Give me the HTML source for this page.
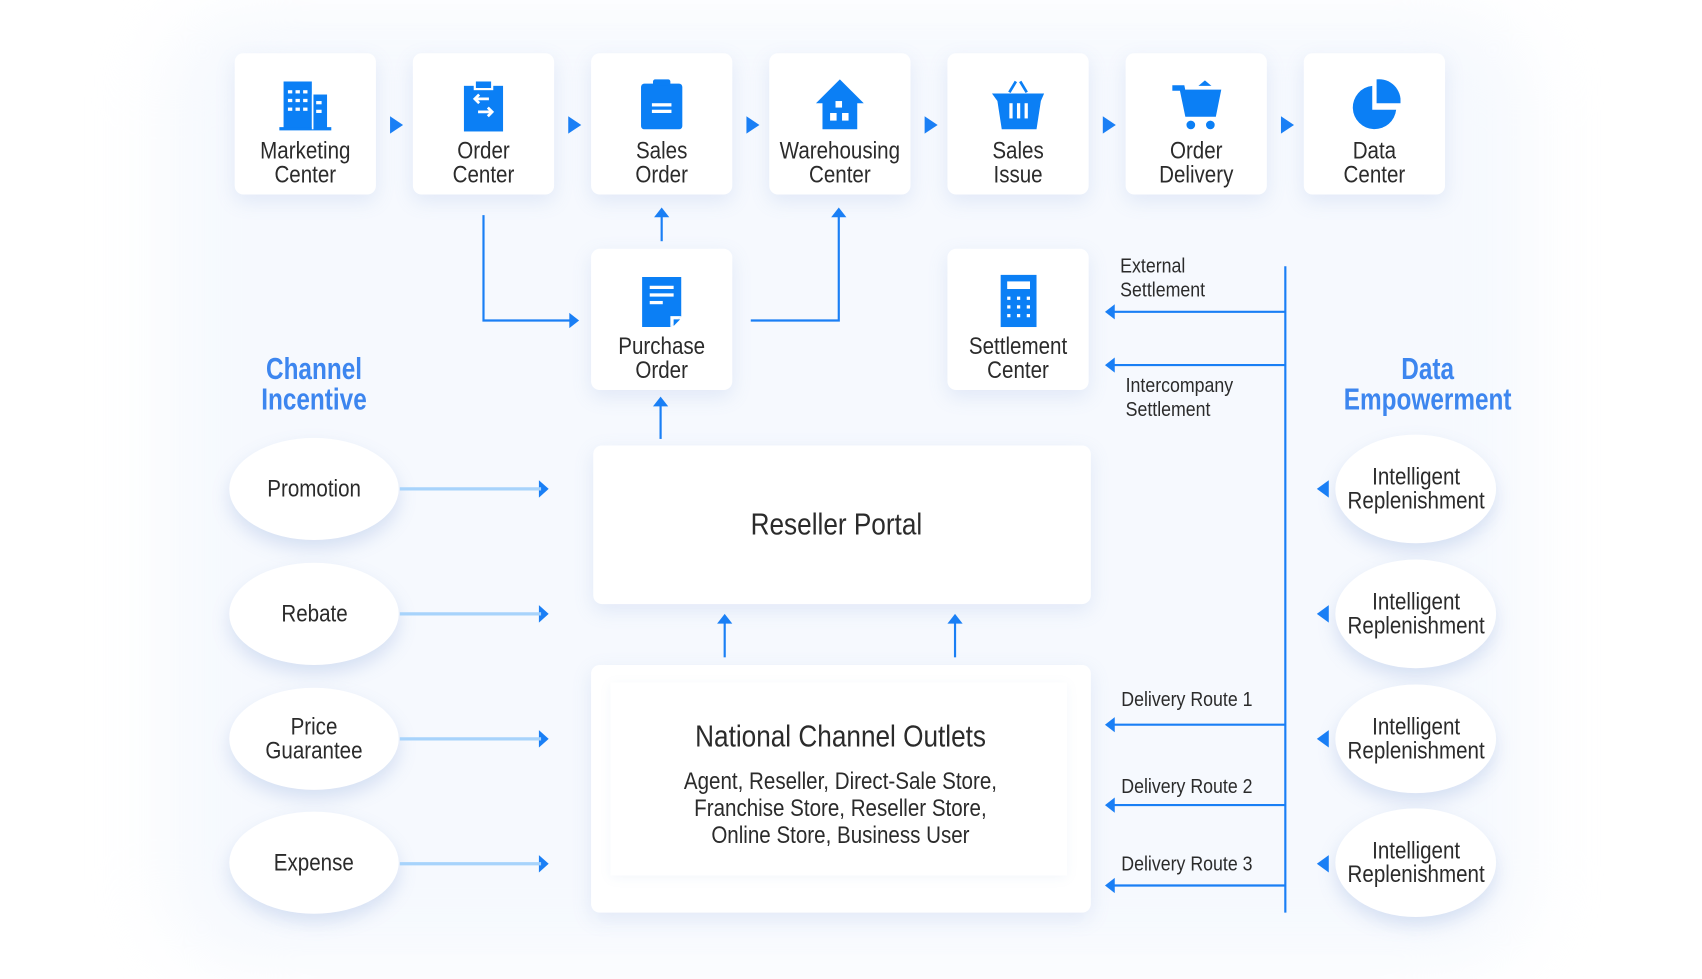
<!DOCTYPE html>
<html><head><meta charset="utf-8"><style>
html,body{margin:0;padding:0;background:#fff;width:1702px;height:979px;overflow:hidden}
#w{position:absolute;left:0;top:0;width:1560px;height:897px;transform:scale(1.0865,1.0865);transform-origin:0 0;font-family:"Liberation Sans Narrow","Liberation Sans",sans-serif;color:#2b2b2b}
.glow{position:absolute;left:150px;top:10px;width:1260px;height:880px;border-radius:80px;background:#f6f9fe;filter:blur(30px)}
.box{position:absolute;background:#fff;border-radius:8px;box-shadow:0 6px 18px rgba(120,150,210,.16);text-align:center}
.t{width:130px;height:130px}
.lab{position:absolute;left:0;right:0;top:79px;font-size:22px;line-height:22px;transform:scaleX(.86)}
.ic{position:absolute;left:41px;top:22px;width:48px;height:52px}
.el{position:absolute;background:#fff;border-radius:50%;box-shadow:0 8px 16px rgba(120,150,210,.25);display:flex;align-items:center;justify-content:center;text-align:center;font-size:22px;line-height:22px}
.el span,.n{display:inline-block;transform:scaleX(.86)}
.h{position:absolute;color:#3d86ef;font-weight:bold;font-size:28px;line-height:28px;text-align:center;transform:scaleX(.8)}
.s{position:absolute;font-size:19px;line-height:22px;transform:scaleX(.86);transform-origin:0 0;white-space:nowrap}
svg{position:absolute;left:0;top:0}
</style></head><body><div id="w">
<div class="glow"></div>

<div class="box t" style="left:216px;top:49px"><svg class="ic" viewBox="0 0 48 52"><rect x="4" y="4" width="26" height="44" fill="#0b7ff5"/><rect x="30" y="16" width="14" height="32" fill="#0b7ff5"/><rect x="0" y="46" width="48" height="3" fill="#0b7ff5"/><g fill="#fff"><rect x="8" y="12" width="4" height="3"/><rect x="15" y="12" width="4" height="3"/><rect x="22" y="12" width="4" height="3"/><rect x="8" y="20" width="4" height="3"/><rect x="15" y="20" width="4" height="3"/><rect x="22" y="20" width="4" height="3"/><rect x="8" y="28" width="4" height="3"/><rect x="15" y="28" width="4" height="3"/><rect x="22" y="28" width="4" height="3"/><rect x="34" y="22" width="5" height="3"/><rect x="34" y="30" width="5" height="3"/><rect x="30" y="16" width="1.5" height="32"/></g></svg><div class="lab">Marketing<br>Center</div></div>
<div class="box t" style="left:380px;top:49px"><svg class="ic" viewBox="0 0 48 52"><rect x="6" y="8" width="36" height="42" fill="#0b7ff5"/><rect x="16" y="3" width="16" height="8" fill="#0b7ff5" stroke="#fff" stroke-width="2"/><path d="M29 20h-12m3-4l-4 4 4 4M19 32h12m-3-4l4 4-4 4" stroke="#fff" stroke-width="2.5" fill="none"/></svg><div class="lab">Order<br>Center</div></div>
<div class="box t" style="left:544px;top:49px"><svg class="ic" viewBox="0 0 48 52"><rect x="5" y="6" width="38" height="42" rx="3" fill="#0b7ff5"/><rect x="16" y="2" width="16" height="6" rx="2" fill="#0b7ff5"/><rect x="15" y="24" width="18" height="3" fill="#fff"/><rect x="15" y="30" width="18" height="3" fill="#fff"/></svg><div class="lab">Sales<br>Order</div></div>
<div class="box t" style="left:708px;top:49px"><svg class="ic" viewBox="0 0 48 52"><path d="M24 2L2 24h6v24h32V24h6z" fill="#0b7ff5"/><rect x="20" y="22" width="6" height="6" fill="#fff"/><rect x="15" y="33" width="6" height="7" fill="#fff"/><rect x="26" y="33" width="6" height="7" fill="#fff"/></svg><div class="lab">Warehousing<br>Center</div></div>
<div class="box t" style="left:872px;top:49px"><svg class="ic" viewBox="0 0 48 52"><path d="M16 14l6-10M32 14l-6-10" stroke="#0b7ff5" stroke-width="2.5"/><path d="M0 15h48l-3 7-4 26H9L5 22z" fill="#0b7ff5"/><g fill="#fff"><rect x="16" y="24" width="3" height="14"/><rect x="23" y="24" width="3" height="14"/><rect x="30" y="24" width="3" height="14"/></g></svg><div class="lab">Sales<br>Issue</div></div>
<div class="box t" style="left:1036px;top:49px"><svg class="ic" viewBox="0 0 48 52"><path d="M2 10h9l5 24h24l4-20H14" stroke="#0b7ff5" stroke-width="5" fill="none"/><path d="M14 14h30l-4 18H17z" fill="#0b7ff5"/><path d="M26 8l6-5 6 5z" fill="#0b7ff5"/><circle cx="19" cy="44" r="4" fill="#0b7ff5"/><circle cx="37" cy="44" r="4" fill="#0b7ff5"/></svg><div class="lab">Order<br>Delivery</div></div>
<div class="box t" style="left:1200px;top:49px"><svg class="ic" viewBox="0 0 48 52"><path d="M22 8A20 20 0 1 0 44 30H22z" fill="#0b7ff5"/><path d="M26 2A20 20 0 0 1 48 24H26z" fill="#0b7ff5"/></svg><div class="lab">Data<br>Center</div></div>

<div class="box t" style="left:544px;top:229px"><svg class="ic" viewBox="0 0 48 52"><path d="M6 4h36v36l-10 10H6z" fill="#0b7ff5"/><g fill="#fff"><rect x="13" y="12" width="22" height="3"/><rect x="13" y="19" width="22" height="3"/><rect x="13" y="26" width="12" height="3"/><path d="M32 40h10L32 50z"/></g><path d="M35 43h6l-6 6z" fill="#0b7ff5"/></svg><div class="lab">Purchase<br>Order</div></div>
<div class="box t" style="left:872px;top:229px"><svg class="ic" viewBox="0 0 48 52"><rect x="8" y="2" width="33" height="48" fill="#0b7ff5"/><rect x="14" y="8" width="21" height="7" fill="#fff"/><g fill="#fff"><rect x="14" y="22" width="3" height="3"/><rect x="23" y="22" width="3" height="3"/><rect x="32" y="22" width="3" height="3"/><rect x="14" y="30" width="3" height="3"/><rect x="23" y="30" width="3" height="3"/><rect x="32" y="30" width="3" height="3"/><rect x="14" y="38" width="3" height="3"/><rect x="23" y="38" width="3" height="3"/><rect x="32" y="38" width="3" height="3"/></g></svg><div class="lab">Settlement<br>Center</div></div>

<div class="box" style="left:546px;top:410px;width:458px;height:146px;display:flex;align-items:center;justify-content:center;font-size:28px"><span class="n" style="margin-left:-10px">Reseller Portal</span></div>
<div class="box" style="left:544px;top:612px;width:460px;height:228px"><div style="position:absolute;left:18px;top:16px;width:420px;height:178px;box-shadow:0 2px 10px rgba(120,150,210,.08)"></div>
<div style="position:absolute;left:0;right:0;top:50px;font-size:28px"><span class="n">National Channel Outlets</span></div>
<div style="position:absolute;left:0;right:0;top:94px;font-size:22px;line-height:25px"><span class="n">Agent, Reseller, Direct-Sale Store,<br>Franchise Store, Reseller Store,<br>Online Store, Business User</span></div></div>

<div class="h" style="left:199px;top:326px;width:180px">Channel<br>Incentive</div>
<div class="h" style="left:1214px;top:326px;width:200px">Data<br>Empowerment</div>

<div class="el" style="left:211px;top:403px;width:156px;height:94px"><span>Promotion</span></div>
<div class="el" style="left:211px;top:518px;width:156px;height:94px"><span>Rebate</span></div>
<div class="el" style="left:211px;top:633px;width:156px;height:94px"><span>Price<br>Guarantee</span></div>
<div class="el" style="left:211px;top:747px;width:156px;height:94px"><span>Expense</span></div>
<div class="el" style="left:1229px;top:400px;width:148px;height:100px"><span>Intelligent<br>Replenishment</span></div>
<div class="el" style="left:1229px;top:515px;width:148px;height:100px"><span>Intelligent<br>Replenishment</span></div>
<div class="el" style="left:1229px;top:630px;width:148px;height:100px"><span>Intelligent<br>Replenishment</span></div>
<div class="el" style="left:1229px;top:744px;width:148px;height:100px"><span>Intelligent<br>Replenishment</span></div>

<div class="s" style="left:1031px;top:235px">External<br>Settlement</div>
<div class="s" style="left:1036px;top:345px">Intercompany<br>Settlement</div>
<div class="s" style="left:1032px;top:634px">Delivery Route 1</div>
<div class="s" style="left:1032px;top:714px">Delivery Route 2</div>
<div class="s" style="left:1032px;top:785px">Delivery Route 3</div>

<svg width="1560" height="897" viewBox="0 0 1560 897">
<g fill="#1a7ff5">
<path d="M359 107l12 8-12 8z"/><path d="M523 107l12 8-12 8z"/><path d="M687 107l12 8-12 8z"/><path d="M851 107l12 8-12 8z"/><path d="M1015 107l12 8-12 8z"/><path d="M1179 107l12 8-12 8z"/>
</g>
<g stroke="#1a7ff5" stroke-width="2" fill="none">
<path d="M445 198V295H526"/><path d="M609 222V198"/><path d="M691 295H772V198"/><path d="M608 404V372"/><path d="M667 605V572"/><path d="M879 605V572"/>
<path d="M1183 245V840"/><path d="M1183 287H1024M1183 336H1024M1183 667H1024M1183 741H1024M1183 815H1024"/>
</g>
<g fill="#1a7ff5">
<path d="M524 288l9 7-9 7z"/><path d="M602 200l7-9 7 9z"/><path d="M765 200l7-9 7 9z"/><path d="M601 374l7-9 7 9z"/><path d="M660 574l7-9 7 9z"/><path d="M872 574l7-9 7 9z"/>
<path d="M1026 280l-9 7 9 7z"/><path d="M1026 329l-9 7 9 7z"/><path d="M1026 660l-9 7 9 7z"/><path d="M1026 734l-9 7 9 7z"/><path d="M1026 808l-9 7 9 7z"/>
<path d="M1223 442l-11 8 11 8z"/><path d="M1223 557l-11 8 11 8z"/><path d="M1223 672l-11 8 11 8z"/><path d="M1223 787l-11 8 11 8z"/>
<path d="M496 442l9 8-9 8z"/><path d="M496 557l9 8-9 8z"/><path d="M496 672l9 8-9 8z"/><path d="M496 787l9 8-9 8z"/>
</g>
<g stroke="#a7d3fb" stroke-width="3">
<path d="M368 450H498M368 565H498M368 680H498M368 795H498"/>
</g>
</svg>
</div></body></html>
